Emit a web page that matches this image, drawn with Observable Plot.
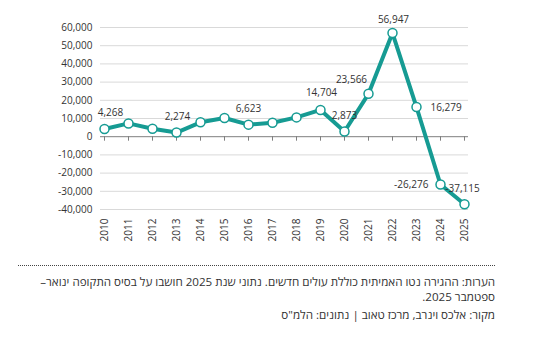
<!DOCTYPE html>
<html lang="he">
<head>
<meta charset="utf-8">
<script src="https://cdn.jsdelivr.net/npm/d3@7"></script>
<script src="https://cdn.jsdelivr.net/npm/@observablehq/plot@0.6"></script>
<style>
  html, body { margin: 0; padding: 0; background: #fff; }
  #wrap { position: relative; width: 545px; height: 345px; font-family: "Open Sans", sans-serif; }
  #chart { position: absolute; left: 0; top: 0; }
  #rule { position: absolute; left: 18px; width: 477px; top: 265px; border-top: 1px dotted #444; }
  .note { position: absolute; left: 16px; width: 479px; direction: rtl; text-align: right; color: #333; font-size: 11.6px; line-height: 15px; }
</style>
</head>
<body>
<div id="wrap">
  <div id="chart"></div>
  <div id="rule"></div>
  <div class="note" style="top:274px;">הערות: ההגירה נטו האמיתית כוללת עולים חדשים. נתוני שנת 2025 חושבו על בסיס התקופה ינואר–<wbr>ספטמבר 2025.</div>
  <div class="note" style="top:307px;">מקור: אלכס וינרב, מרכז טאוב | נתונים: הלמ"ס</div>
</div>
<script>
// Data
const years = [2010, 2011, 2012, 2013, 2014, 2015, 2016, 2017, 2018, 2019, 2020, 2021, 2022, 2023, 2024, 2025];
const netMigration = [4268, 7300, 4400, 2274, 7900, 10300, 6623, 7700, 10600, 14704, 2873, 23566, 56947, 16279, -26276, -37115];
const labeledYears = [2010, 2013, 2016, 2019, 2020, 2021, 2022, 2023, 2024, 2025];
const yTicks = [-40000, -30000, -20000, -10000, 0, 10000, 20000, 30000, 40000, 50000, 60000];

// Label placement (style config, kept apart from data)
const labelPlacement = {
  2010: {dx: 6, dy: -16, anchor: "middle"},
  2013: {dx: 1, dy: -16, anchor: "middle"},
  2016: {dx: 0, dy: -16, anchor: "middle"},
  2019: {dx: 1, dy: -17, anchor: "middle"},
  2020: {dx: 0, dy: -16, anchor: "middle"},
  2021: {dx: -17, dy: -14, anchor: "middle"},
  2022: {dx: 1, dy: -13, anchor: "middle"},
  2023: {dx: 14, dy: 1, anchor: "start"},
  2024: {dx: -12, dy: 0, anchor: "end"},
  2025: {dx: -2, dy: -15, anchor: "middle"}
};

const table = years.map((y, i) => ({year: String(y), value: netMigration[i]}));
const labeled = table.filter(d => labeledYears.includes(+d.year));
const fmt = d => d.toLocaleString("en-US");
const teal = "#169b93";

const labelMarks = labeled.map(d => {
  const p = labelPlacement[d.year];
  return Plot.text([d], {x: "year", y: "value", text: d => fmt(d.value), dx: p.dx, dy: p.dy, textAnchor: p.anchor, fill: "#333", fontSize: 10});
});

const chart = Plot.plot({
  width: 545,
  height: 255,
  marginLeft: 101,
  marginRight: 78,
  marginTop: 27,
  marginBottom: 46,
  style: {fontFamily: "Open Sans, sans-serif", fontSize: "10px", color: "#333", background: "transparent"},
  x: {type: "point", domain: years.map(String), padding: 0, label: null},
  y: {domain: [-40000, 60000], label: null},
  marks: [
    Plot.ruleY(yTicks.filter(v => v !== 0), {stroke: "#d9d9d9", strokeWidth: 1, insetLeft: -1, insetRight: -1}),
    Plot.ruleY([0], {stroke: "#7f7f7f", strokeWidth: 1, insetLeft: -1, insetRight: -1}),
    Plot.ruleX(years.map(String), {x: d => d, y1: 0, y2: 0, insetBottom: -4.5, stroke: "#7f7f7f"}),
    Plot.axisY({ticks: yTicks, tickSize: 0, tickPadding: 9, tickFormat: fmt, fontSize: 10, fill: "#333", label: null}),
    Plot.axisX({tickSize: 0, tickPadding: 9, tickRotate: -90, fontSize: 10, fill: "#333", label: null}),
    Plot.line(table, {x: "year", y: "value", stroke: teal, strokeWidth: 4, strokeLinejoin: "round"}),
    Plot.dot(table, {x: "year", y: "value", r: 4.5, fill: "white", stroke: teal, strokeWidth: 1.5}),
    ...labelMarks
  ]
});
document.getElementById("chart").appendChild(chart);
</script>
</body>
</html>
